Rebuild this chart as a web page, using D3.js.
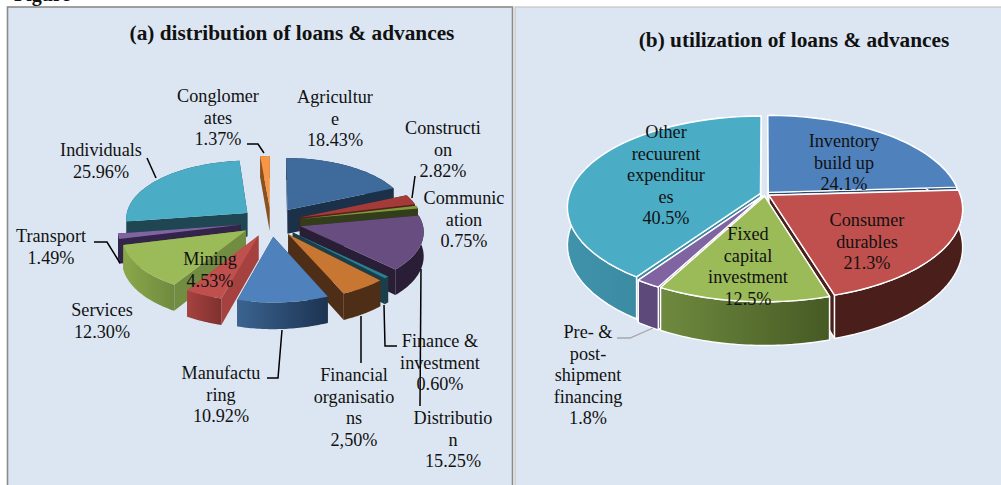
<!DOCTYPE html>
<html><head><meta charset="utf-8">
<script src="https://cdn.jsdelivr.net/npm/d3@7"></script>
<style>
html,body{margin:0;padding:0;background:#fff}
svg{display:block}
text{font-family:"Liberation Serif",serif;fill:#111}
</style></head><body>
<svg id="c" width="1001" height="485"></svg>
<script>
const headingText="Figure";
const titleA="(a) distribution of loans & advances";
const titleB="(b) utilization of loans & advances";
const categoriesA=["Agriculture","Construction","Communication","Distribution","Finance & investment","Financial organisations","Manufacturing","Mining","Services","Transport","Individuals","Conglomerates"];
// slice sizes as drawn; the financial organisations slice is drawn near 5.5% although it is labelled 2,50%
const valuesA=[18.43,2.82,0.75,15.25,0.60,5.50,10.92,4.53,12.30,1.49,25.96,1.37];
const labelsA=[["Agricultur","e","18.43%"],["Constructi","on","2.82%"],["Communic","ation","0.75%"],["Distributio","n","15.25%"],["Finance &","investment","0.60%"],["Financial","organisatio","ns","2,50%"],["Manufactu","ring","10.92%"],["Mining","4.53%"],["Services","12.30%"],["Transport","1.49%"],["Individuals","25.96%"],["Conglomer","ates","1.37%"]];
const categoriesB=["Inventory build up","Consumer durables","Fixed capital investment","Pre- & post-shipment financing","Other recuurent expenditures"];
const valuesB=[24.1,21.3,12.5,1.8,40.5];
const labelsB=[["Inventory","build up","24.1%"],["Consumer","durables","21.3%"],["Fixed","capital","investment","12.5%"],["Pre- &","post-","shipment","financing","1.8%"],["Other","recuurent","expenditur","es","40.5%"]];

const svg=d3.select("#c");
const defs=svg.append("defs");
let gid=0;

function pie3d(o){
  const g=svg.append("g");
  const arcs=d3.pie().sort(null).value(d=>d)(o.values);
  const proj=(u,v,z,ax,ay)=>{
    const vv=v+ay, uu=u+ax, s=1/(1-o.k*vv);
    return [o.cx+o.rx*uu*s, o.cy+o.ry*vv*s+(z?o.depth*s:0)];
  };
  const items=arcs.map((a,i)=>{
    const mid=(a.startAngle+a.endAngle)/2, e=o.explode;
    const ax=e*Math.sin(mid), ay=-e*Math.cos(mid);
    const pts=d3.range(0,41).map(t=>{
      const th=a.startAngle+(a.endAngle-a.startAngle)*t/40;
      return [Math.sin(th),-Math.cos(th)];
    });
    return {i,a,ax,ay,pts,order:-Math.cos(mid)};
  }).sort((p,q)=>p.order-q.order);
  const line=d3.line();
  items.forEach(it=>{
    const {i,ax,ay,pts}=it;
    const top=pts.map(p=>proj(p[0],p[1],0,ax,ay));
    const bot=pts.map(p=>proj(p[0],p[1],1,ax,ay));
    const A=proj(0,0,0,ax,ay),B=proj(0,0,1,ax,ay);
    const col=o.colors[i];
    const sg=g.append("g");
    const stroke=o.stroke||"none", sw=o.stroke?o.strokeWidth:0;
    const wall=(a,b,c,d,fill)=>sg.append("path").attr("d",line([a,b,c,d])+"Z").attr("fill",fill).attr("stroke",stroke).attr("stroke-width",sw).attr("stroke-linejoin","round");
    const walls=[[A,top[0],bot[0],B],[A,top[40],bot[40],B]];
    walls.sort((p,q)=>(p[1][1])-(q[1][1]));
    walls.forEach(w=>wall(w[0],w[1],w[2],w[3],col.side));
    const id="gr"+(gid++);
    const xs=top.map(p=>p[0]);
    const lg=defs.append("linearGradient").attr("id",id).attr("gradientUnits","userSpaceOnUse")
      .attr("x1",d3.min(xs)).attr("x2",d3.max(xs)).attr("y1",0).attr("y2",0);
    lg.append("stop").attr("offset",0).attr("stop-color",col.w0);
    lg.append("stop").attr("offset",1).attr("stop-color",col.w1);
    sg.append("path").attr("d",line(top.concat(bot.slice().reverse()))+"Z").attr("fill","url(#"+id+")").attr("stroke",stroke).attr("stroke-width",sw).attr("stroke-linejoin","round");
    sg.append("path").attr("d",line([A,...top])+"Z").attr("fill",col.top).attr("stroke",stroke).attr("stroke-width",sw).attr("stroke-linejoin","round");
  });
  return g;
}
function textBlock(lines,x,y,lh,size){
  const t=svg.append("text").attr("text-anchor","middle").attr("font-size",size||18.2);
  lines.forEach((l,i)=>t.append("tspan").attr("x",x).attr("y",y+i*lh).text(l));
}
function leader(pts,color,w){
  svg.append("path").attr("d",d3.line()(pts)).attr("fill","none").attr("stroke",color||"#000").attr("stroke-width",w||1.5);
}

// page heading: the reference crops it at the top edge of the picture
svg.append("text").attr("x",14).attr("y",1).attr("font-size",20).attr("font-weight","bold").text(headingText);

// panels
svg.append("rect").attr("x",7.5).attr("y",7).attr("width",505).attr("height",490).attr("fill","#dce6f2").attr("stroke","#8a8a8a").attr("stroke-width",1.6);
svg.append("rect").attr("x",515).attr("y",7).attr("width",490).attr("height",490).attr("fill","#dce6f2").attr("stroke","#c4c4c4").attr("stroke-width",1.2);

svg.append("text").attr("x",292).attr("y",40).attr("text-anchor","middle").attr("font-size",21.3).attr("font-weight","bold").text(titleA);
svg.append("text").attr("x",794).attr("y",47).attr("text-anchor","middle").attr("font-size",21.3).attr("font-weight","bold").text(titleB);

pie3d({values:valuesA,cx:271,cy:222,rx:122,ry:58,k:0.08,depth:24,explode:0.25,
  colors:[
   {top:"#3e6a9c",side:"#1b3049",w0:"#1b3049",w1:"#1b3049"},
   {top:"#a33c38",side:"#5a1f1d",w0:"#5a1f1d",w1:"#5a1f1d"},
   {top:"#7e9a3d",side:"#333d1a",w0:"#333d1a",w1:"#333d1a"},
   {top:"#674d80",side:"#2a1e36",w0:"#2a1e36",w1:"#2a1e36"},
   {top:"#2b7f92",side:"#1a3f4a",w0:"#1a3f4a",w1:"#1a3f4a"},
   {top:"#c87733",side:"#4f2e17",w0:"#4f2e17",w1:"#4f2e17"},
   {top:"#4f81bd",side:"#24405f",w0:"#3a6490",w1:"#1d3352"},
   {top:"#c0504d",side:"#a5423f",w0:"#a5423f",w1:"#7f312f"},
   {top:"#9bbb59",side:"#728c41",w0:"#8aa84a",w1:"#6f8a3f"},
   {top:"#8064a2",side:"#332449",w0:"#332449",w1:"#332449"},
   {top:"#4bacc6",side:"#1f4753",w0:"#1f4753",w1:"#1f4753"},
   {top:"#f79646",side:"#8a5020",w0:"#8a5020",w1:"#8a5020"}]});

pie3d({values:valuesB,cx:765,cy:194,rx:191,ry:89,k:0.15,depth:37,stroke:"#fff",strokeWidth:1.4,explode:0.025,
  colors:[
   {top:"#4f81bd",side:"#2a4a70",w0:"#2a4a70",w1:"#2a4a70"},
   {top:"#c0504d",side:"#4a1f1b",w0:"#4a1f1b",w1:"#4a1f1b"},
   {top:"#9bbb59",side:"#4a5e28",w0:"#6f8a3f",w1:"#465a24"},
   {top:"#8064a2",side:"#5e4a7a",w0:"#5e4a7a",w1:"#5e4a7a"},
   {top:"#4bacc6",side:"#3a8ba3",w0:"#4093ab",w1:"#327c92"}]});

// leader lines, panel a
leader([[147,158],[156,178]]);
leader([[247,144],[258,144],[264,153]]);
leader([[415,176],[412,198]]);
leader([[94,242],[107,242],[120,263]]);
leader([[267,378],[278,378],[282,330]]);
leader([[361,363],[361,316]]);
leader([[397,346],[385,346],[384,305]]);
leader([[420,406],[421,269]]);
// leader, panel b
leader([[617,338],[630,338],[653,328]],"#a6a6a6",1.3);

// labels, panel a
const posA=[[335,103],[443,134],[464,204],[453,424],[440,347],[354,381],[221,379],[210,265],[102,316],[51,242],[101,156],[218,102]];
labelsA.forEach((l,i)=>textBlock(l,posA[i][0],posA[i][1],21.5));
// labels, panel b
const posB=[[844,147],[867,226],[748,240],[588,338],[666,138]];
labelsB.forEach((l,i)=>textBlock(l,posB[i][0],posB[i][1],21.5));
</script>
</body></html>
